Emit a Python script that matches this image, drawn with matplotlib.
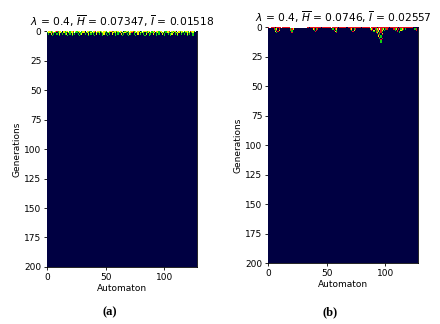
import numpy as np
import matplotlib
matplotlib.use('Agg')
import matplotlib.pyplot as plt
from matplotlib.colors import ListedColormap, BoundaryNorm

# cell states: '.' empty, r red, g green, y yellow, w white, d dark red
palette = ['#000042', '#e8101a', '#10d010', '#f0f000', '#ffffff', '#901010']
state_keys = '.rgywd'

n_gen = 200
n_cells = 128

titles = [r'$\lambda$ = 0.4, $\overline{H}$ = 0.07347, $\overline{I}$ = 0.01518',
          r'$\lambda$ = 0.4, $\overline{H}$ = 0.0746, $\overline{I}$ = 0.02557']
panel_labels = ['(a)', '(b)']

# (a): one string per generation, one char per automaton
rows_a = [
    "wyygywwyrgyyw.ygyywgyyrwygyywgyy.wyyggwyyrwyygywyygwwyyrgyygywyyw.gyygwyyrgywyy.gwyyygyywgyrwyygyywwggyyrwygyy.wygyywgyygwryygw",
    "gyygrygg.gyyg.ygg.ygyygwgg.yggyy.gyg.ygyg.ygy.gyyg.gyg.yygy.ggy.gyyg.gyyr.gygy.ygyg.ggy.yggy.gyg.ygy.gyyg.gy.gygy.ygg.gygy.gy",
    ".g.y.g..g.y..g.gy..g.y.g..g.gy..g..y.g.g..y.g..gy.g..g.y..g.g..y.g..g.yg..g..y.g..g.y..gg.y..g.g..y.g..g.gy..g.y..g..g.y.g..g.",
    "....g.....g......g...g.....g.......g....g......g...g......g.....g....g.....g.......g...g.....g......g....g.....g.......g....g...",
]

# (b): per generation, {start column: cell states}
rows_b = [
    {0: "rwwrrr.rrrrwrrrrrrrwwwwwwwwwwwwwwrr.rrrrrrrrr.rrrrrrrrwrrrrr.rrrrrr.rrrrrrrrrrr.rrrrrrrwrrrrr.rrrrrrrrr.rrrrrrr.rrrrrrrrrrrr"},
    {5: "rgy.r", 19: "gry", 38: "yr.gr", 55: "g.ry", 70: "ry.gr", 87: "gyr.rgyrwrgy.gr", 107: "rgy.r.gyr.g", 125: "gr"},
    {6: "gr.y", 19: "rg", 39: "g.r", 56: "r.g", 71: "g.y", 88: "r.y.gry.ry.g", 108: "g.r..yg", 126: "r"},
    {6: "y.r", 20: "g", 40: "r", 57: "yg", 72: "r", 90: "g.rgy.rg", 110: "r.g"},
    {7: "g", 20: "r", 58: "r", 92: "ry.gr", 112: "g"},
    {93: "g.r.y"},
    {94: "rg.r"},
    {94: "y.g"},
    {95: "rg"},
    {95: "g.r"},
    {96: "r"},
    {96: "g"},
    {96: "g"},
]


def build_grid(rows):
    grid = np.zeros((n_gen, n_cells), dtype=int)
    for i, r in enumerate(rows):
        if isinstance(r, dict):
            line = ['.'] * n_cells
            for start, seg in r.items():
                for j, c in enumerate(seg):
                    if start + j < n_cells:
                        line[start + j] = c
            r = ''.join(line)
        r = r.ljust(n_cells, '.')[:n_cells]
        grid[i] = [state_keys.index(c) for c in r]
    return grid


plt.rcParams['font.family'] = 'DejaVu Sans'
fig = plt.figure(figsize=(4.4, 3.24), dpi=100)
cmap = ListedColormap(palette)
norm = BoundaryNorm(np.arange(len(palette) + 1) - 0.5, len(palette))

positions = [[0.107, 0.176, 0.341, 0.728], [0.609, 0.188, 0.341, 0.728]]
label_x = [0.25, 0.75]
x_edges = np.arange(n_cells + 1)
y_edges = np.arange(n_gen + 1)

for k, rows in enumerate([rows_a, rows_b]):
    ax = fig.add_axes(positions[k])
    ax.pcolormesh(x_edges, y_edges, build_grid(rows), cmap=cmap, norm=norm,
                  antialiased=False, zorder=3)
    ax.set_xlim(0, n_cells)
    ax.set_ylim(n_gen, 0)
    ax.set_title(titles[k], fontsize=7.7, pad=4)
    ax.set_xlabel('Automaton', fontsize=6.5, labelpad=2)
    ax.set_ylabel('Generations', fontsize=6.5, labelpad=2)
    ax.set_xticks([0, 50, 100])
    ax.set_yticks([0, 25, 50, 75, 100, 125, 150, 175, 200])
    ax.tick_params(labelsize=6.5, length=2.5, width=0.6, pad=1.5)
    for s in ax.spines.values():
        s.set_linewidth(0.6)
    fig.text(label_x[k], 0.035, panel_labels[k], ha='center', va='center',
             fontsize=9, fontweight='bold', family='Liberation Serif')

fig.savefig('out.png', dpi=100)
